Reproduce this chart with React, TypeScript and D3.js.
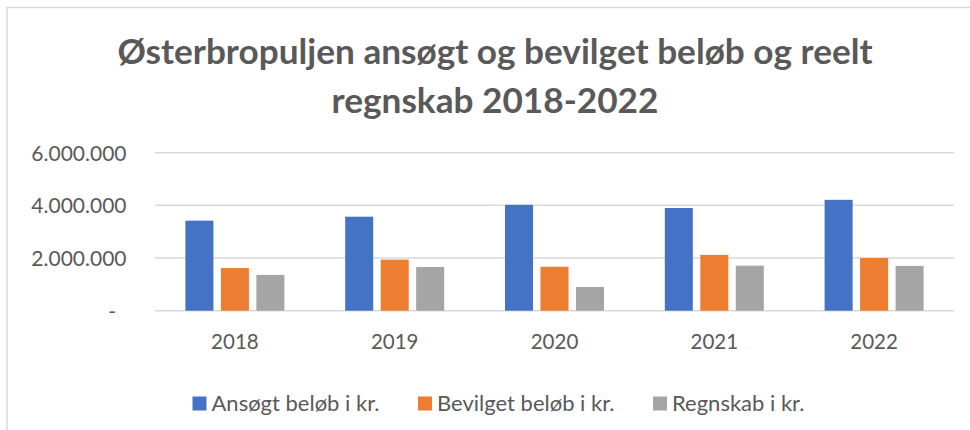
import React from "react";
import * as d3 from "d3";

const years = ["2018", "2019", "2020", "2021", "2022"];
const seriesNames = ["Ansøgt beløb i kr.", "Bevilget beløb i kr.", "Regnskab i kr."];
const ansoegt = [3420000, 3570000, 4020000, 3900000, 4210000];
const bevilget = [1620000, 1940000, 1670000, 2120000, 2000000];
const regnskab = [1360000, 1660000, 900000, 1710000, 1700000];
const yTicks = [0, 2000000, 4000000, 6000000];
const colors = ["#4472C4", "#ED7D31", "#A5A5A5"];
const titleLines = ["Østerbropuljen ansøgt og bevilget beløb og reelt", "regnskab 2018-2022"];

const W = 970;
const H = 430;
const FONT = "Lato, 'Open Sans', sans-serif";

export default function App() {
  const values = [ansoegt, bevilget, regnskab];
  const y = d3.scaleLinear().domain([0, 6000000]).range([310.7, 152.7]);
  const x0 = d3.scaleBand<string>().domain(years).range([155, 954]).padding(0);
  const groupW = 99;
  const x1 = d3
    .scaleBand<number>()
    .domain([0, 1, 2])
    .range([0, groupW])
    .paddingInner(0.21)
    .paddingOuter(0);
  const locale = d3.formatLocale({ decimal: ",", thousands: ".", grouping: [3], currency: ["", ""] });
  const fmt = locale.format(",d");

  const legendX = [192.5, 418, 653];

  return (
    <svg
      width={W}
      height={H}
      style={{ position: "absolute", left: 0, top: 0, background: "#fff" }}
      fontFamily={FONT}
    >
      <rect x={0} y={0} width={W} height={H} fill="#fff" />
      <path d={`M7,${H} V7.5 H${W}`} fill="none" stroke="#d9d9d9" strokeWidth={1.5} />

      {titleLines.map((t, i) => (
        <text
          key={i}
          x={495}
          y={64 + i * 48.5}
          textAnchor="middle"
          fontSize={35.2}
          fontWeight={700}
          fill="#595959"
        >
          {t}
        </text>
      ))}

      {yTicks.map((t) => (
        <g key={t}>
          <line x1={155} x2={954} y1={y(t)} y2={y(t)} stroke="#d9d9d9" strokeWidth={1.5} />
          <text
            x={t === 0 ? 116 : 126.5}
            y={y(t) + 7.8}
            textAnchor="end"
            fontSize={21}
            fill="#595959"
          >
            {t === 0 ? "-" : fmt(t)}
          </text>
        </g>
      ))}

      {years.map((yr, i) => {
        const gx = (x0(yr) as number) + x0.bandwidth() / 2 - groupW / 2;
        return (
          <g key={yr}>
            {values.map((s, k) => (
              <rect
                key={k}
                x={gx + (x1(k) as number)}
                width={x1.bandwidth()}
                y={y(s[i])}
                height={y(0) - y(s[i])}
                fill={colors[k]}
              />
            ))}
            <text
              x={(x0(yr) as number) + x0.bandwidth() / 2}
              y={349.3}
              textAnchor="middle"
              fontSize={20.5}
              fill="#595959"
            >
              {yr}
            </text>
          </g>
        );
      })}

      {seriesNames.map((n, k) => (
        <g key={n}>
          <rect x={legendX[k]} y={396.5} width={14} height={14} fill={colors[k]} />
          <text x={legendX[k] + 19} y={403.5} dy="0.35em" fontSize={22} fill="#595959">
            {n}
          </text>
        </g>
      ))}
    </svg>
  );
}
